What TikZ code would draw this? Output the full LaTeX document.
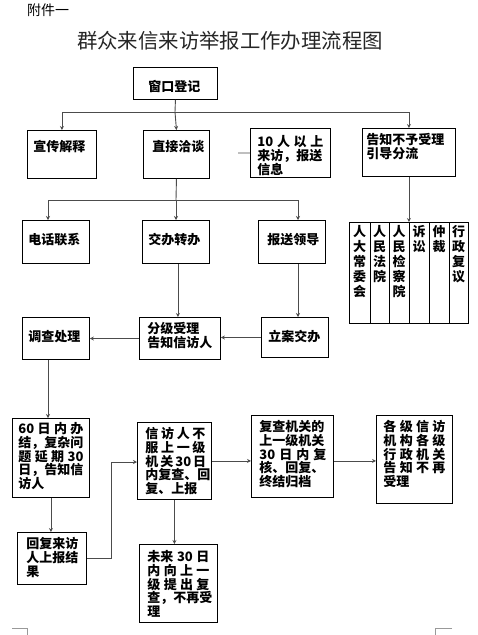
\documentclass[tikz,border=0pt]{standalone}
\usepackage{fontspec}
\setmainfont{Noto Sans CJK SC}
\usetikzlibrary{arrows.meta,calc}
\newcommand{\bc}[6]{\parbox[t][#2pt][t]{#1pt}{\vspace*{#4pt}\hspace*{#3pt}\begin{minipage}[t]{#5pt}\raggedright #6\end{minipage}}}
\newcommand{\jl}[1]{\makebox[\linewidth][s]{#1}}
\begin{document}
\begin{tikzpicture}[x=1pt,y=-1pt,
  box/.style={draw, line width=0.9pt, inner sep=0pt, anchor=north west, font=\fontsize{13}{13.75}\selectfont\bfseries},
  conn/.style={draw=black!70, line width=0.9pt},
  arr/.style={conn, -{Stealth[length=4pt,width=4pt]}},
  tline/.style={draw, line width=0.9pt},
  col/.style={anchor=north, inner sep=0pt, align=center, font=\fontsize{13}{15}\selectfont\bfseries},
  crop/.style={draw=black!40, line width=0.6pt}]
\fill[white] (0,0) rectangle (478,635);
\useasboundingbox (0,0) rectangle (478,635);

\node (att) [anchor=west, inner sep=0pt, font=\fontsize{14}{14}\selectfont] at (27,10) {附件一};
\node (title) [inner sep=0pt, text=black!85, font=\fontsize{20.4}{20}\selectfont] at (230,41) {群众来信来访举报工作办理流程图};

% row 1
\node[box] (win) at (133,67) {\bc{84}{32}{15}{13}{60}{窗口登记}};
\node[box] (xc) at (27,130) {\bc{69}{48}{6}{10}{60}{宣传解释}};
\node[box] (zj) at (143,130) {\bc{66}{48}{9}{10}{56}{直接洽谈}};
\node[box] (b10) at (250,128) {\bc{80}{49}{7}{7}{66}{\jl{10 人 以 上}\\来访，报送\\信息}};
\node[box] (gz) at (362,128) {\bc{93}{48}{4}{5}{86}{告知不予受理\\引导分流}};

% row 2
\node[box] (dh) at (22,220) {\bc{67}{43}{6}{13}{60}{电话联系}};
\node[box] (jb) at (142,220) {\bc{67}{43}{6}{13}{60}{交办转办}};
\node[box] (bs) at (258,220) {\bc{67}{43}{9}{13}{57}{报送领导}};
\node[box, minimum width=119pt, minimum height=101pt] (tbl) at (349,222) {};
\foreach \d in {21,40,60,80,100}
  \draw[tline] ($(tbl.north west)+(\d,0)$) -- ($(tbl.south west)+(\d,0)$);
\node[col] (t1) at (359.5,225) {人\\大\\常\\委\\会};
\node[col] (t2) at (379.5,225) {人\\民\\法\\院};
\node[col] (t3) at (399,225) {人\\民\\检\\察\\院};
\node[col] (t4) at (419,225) {诉\\讼};
\node[col] (t5) at (439,225) {仲\\裁};
\node[col] (t6) at (458.5,225) {行\\政\\复\\议};

% row 3
\node[box] (dc) at (22,317) {\bc{67}{42}{6}{13}{60}{调查处理}};
\node[box] (fj) at (139,317) {\bc{81}{42}{8}{5}{72}{分级受理\\告知信访人}};
\node[box] (la) at (261,317) {\bc{67}{40}{7}{13}{60}{立案交办}};

% row 4
\node[box] (r60) at (12,418) {\bc{77}{79}{6}{4}{65}{\jl{60 日 内 办}\\结，复杂问\\\jl{题 延 期 30}\\日，告知信\\访人}};
\node[box] (xf) at (137,422) {\bc{74}{77}{8}{5}{60}{\jl{信 访 人 不}\\\jl{服 上 一 级}\\\jl{机 关 30 日}\\内复查、回\\复、上报}};
\node[box] (fc) at (251,415) {\bc{82}{82}{8}{5}{67}{复查机关的\\上一级机关\\\jl{30 日 内 复}\\核、回复、\\终结归档}};
\node[box] (gj) at (376,415) {\bc{76}{88}{7}{5}{62}{\jl{各 级 信 访}\\\jl{机 构 各 级}\\\jl{行 政 机 关}\\\jl{告 知 不 再}\\受理}};

% row 5
\node[box] (hf) at (17,532) {\bc{69}{52}{9}{5}{56}{回复来访\\人上报结\\果}};
\node[box] (wl) at (139,544) {\bc{78}{78}{8}{6}{62}{\jl{未来 30 日}\\\jl{内 向 上 一}\\\jl{级 提 出 复}\\查，不再受\\理}};

% helper coordinates
\coordinate (j1) at (175,112);
\coordinate (c10) at (238,153);
\coordinate (j2) at (176,200);
\coordinate (h2l) at (48,200);
\coordinate (h2r) at (298,200);
\coordinate (k1) at (111,462);

% connectors
\draw[conn] (win.south) -- (j1);
\draw[arr] (j1) -| (xc.north);
\draw[arr] (j1) -- (zj.north);
\draw[arr] (j1) -| (gz.north);
\draw[conn] (c10) -- (b10.west);
\draw[conn] (zj.south) -- (j2);
\draw[conn] (h2l) -- (h2r);
\draw[arr] (h2l) -- (h2l |- dh.north);
\draw[arr] (j2) -- (j2 |- jb.north);
\draw[arr] (h2r) -- (h2r |- bs.north);
\draw[arr] (gz.south) -- (gz.south |- tbl.north);
\draw[arr] ($(jb.south)+(2,0)$) -- ($(jb.south |- fj.north)+(2,0)$);
\draw[arr] (bs.south -| h2r) -- (h2r |- la.north);
\draw[arr] (la.west) -- (la.west -| fj.east);
\draw[arr] (fj.west) -- (fj.west -| dc.east);
\draw[arr] (dc.south -| h2l) -- (h2l |- r60.north);
\draw[arr] (r60.south) -- (r60.south |- hf.north);
\draw[arr] (hf.east) -| (k1) -- (k1 -| xf.west);
\draw[arr] (xf.east) -- (xf.east -| fc.west);
\draw[arr] (xf.east -| fc.east) -- (xf.east -| gj.west);
\draw[arr] (xf.south) -- (xf.south |- wl.north);

% page corner marks
\coordinate (cl) at (12,628);
\coordinate (cr) at (452,628);
\draw[crop] (cl) -- ++(15,0) -- ++(0,7);
\draw[crop] (cr) -- ++(-17,0) -- ++(0,7);
\end{tikzpicture}
\end{document}
